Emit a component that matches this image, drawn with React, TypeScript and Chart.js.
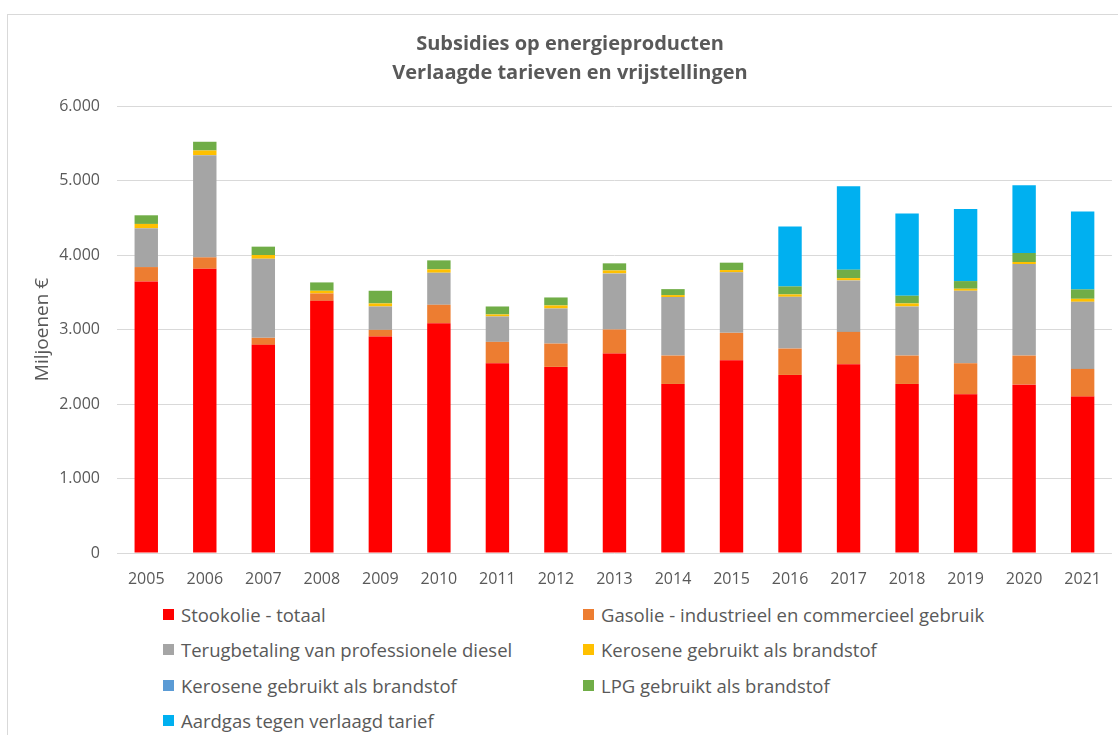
import React, { useEffect, useRef } from "react";
import { Chart, registerables } from "chart.js";

Chart.register(...registerables);

const years = ["2005", "2006", "2007", "2008", "2009", "2010", "2011", "2012", "2013", "2014", "2015", "2016", "2017", "2018", "2019", "2020", "2021"];

const stookolie = [3645, 3816, 2794, 3385, 2906, 3085, 2547, 2498, 2677, 2269, 2587, 2390, 2534, 2269, 2130, 2260, 2099];
const gasolie = [193, 152, 94, 99, 89, 247, 287, 313, 323, 381, 368, 354, 434, 381, 417, 390, 372];
const terugbetaling = [520, 1372, 1062, 0, 314, 430, 341, 471, 753, 785, 812, 695, 691, 659, 973, 1229, 901];
const keroseneGeel = [59, 63, 50, 36, 41, 45, 27, 41, 40, 27, 31, 32, 31, 41, 27, 27, 40];
const keroseneBlauw = [0, 0, 0, 0, 0, 0, 0, 0, 0, 0, 0, 0, 0, 0, 0, 0, 0];
const lpg = [116, 117, 112, 112, 170, 121, 107, 107, 95, 80, 99, 107, 113, 103, 103, 121, 126];
const aardgas = [0, 0, 0, 0, 0, 0, 0, 0, 0, 0, 0, 803, 1120, 1103, 969, 910, 1045];

const yTicks = [0, 1000, 2000, 3000, 4000, 5000, 6000];

const seriesLabels = [
  "Stookolie - totaal",
  "Gasolie - industrieel en commercieel gebruik",
  "Terugbetaling van professionele diesel",
  "Kerosene gebruikt als brandstof",
  "Kerosene gebruikt als brandstof",
  "LPG gebruikt als brandstof",
  "Aardgas tegen verlaagd tarief",
];
const seriesColors = ["#FF0000", "#ED7D31", "#A5A5A5", "#FFC000", "#5B9BD5", "#70AD47", "#00B0F0"];
const seriesData = [stookolie, gasolie, terugbetaling, keroseneGeel, keroseneBlauw, lpg, aardgas];

const FONT = "'Open Sans', 'DejaVu Sans', sans-serif";
const TEXT = "#595959";

function fmt(v: number): string {
  const s = String(Math.round(v));
  return s.replace(/\B(?=(\d{3})+(?!\d))/g, ".");
}

export default function App() {
  const ref = useRef<HTMLCanvasElement | null>(null);

  useEffect(() => {
    if (!ref.current) return;
    const chart = new Chart(ref.current, {
      type: "bar",
      data: {
        labels: years,
        datasets: seriesData.map((d, i) => ({
          label: seriesLabels[i],
          data: d,
          backgroundColor: seriesColors[i],
          borderWidth: 0,
          barPercentage: 0.4,
          categoryPercentage: 1.0,
        })),
      },
      options: {
        animation: false,
        responsive: false,
        maintainAspectRatio: false,
        layout: { padding: { top: 106, left: 7, right: 2, bottom: 0 } },
        plugins: {
          legend: { display: false },
          title: { display: false },
          tooltip: { enabled: false },
        },
        scales: {
          x: {
            stacked: true,
            grid: { display: false, drawTicks: false },
            border: { display: false },
            ticks: { color: TEXT, font: { family: FONT, size: 16 }, padding: 17 },
            afterFit: (s: any) => {
              s.height = 47;
            },
          },
          y: {
            stacked: true,
            min: 0,
            max: 6000,
            afterBuildTicks: (s: any) => {
              s.ticks = yTicks.map((v) => ({ value: v }));
            },
            grid: { color: "#D9D9D9", lineWidth: 1, drawTicks: false },
            border: { display: false },
            ticks: {
              color: TEXT,
              font: { family: FONT, size: 16 },
              padding: 17,
              callback: (v: any) => fmt(Number(v)),
            },
            title: {
              display: true,
              text: "Miljoenen €",
              color: TEXT,
              font: { family: FONT, size: 19 },
              padding: { top: 24, bottom: 0 },
            },
            afterFit: (s: any) => {
              s.width = 110;
            },
          },
        },
      },
    });
    return () => chart.destroy();
  }, []);

  const legendRows: number[][] = [[0, 1], [2, 3], [4, 5], [6]];
  const rowY = [614, 649, 685, 720];
  const colX = [163, 583];

  return (
    <div style={{ position: "fixed", left: 0, top: 0, width: 1118, height: 735, overflow: "hidden", background: "#fff", fontFamily: FONT }}>
      <div style={{ position: "absolute", left: 7, top: 14, width: 1300, height: 900, border: "1px solid #D9D9D9", boxSizing: "border-box" }} />
      <canvas ref={ref} width={1118} height={600} style={{ position: "absolute", left: 0, top: 0, width: 1118, height: 600 }} />
      <div style={{ position: "absolute", left: 7, width: 1126, top: 28, textAlign: "center", color: TEXT, fontWeight: 700, fontSize: 20, lineHeight: "29px" }}>
        <div>Subsidies op energieproducten</div>
        <div>Verlaagde tarieven en vrijstellingen</div>
      </div>
      {legendRows.map((row, r) =>
        row.map((idx, c) => (
          <div
            key={idx}
            style={{ position: "absolute", left: colX[c], top: rowY[r] - 13, height: 26, display: "flex", alignItems: "center", color: TEXT, fontSize: 18.5, whiteSpace: "nowrap" }}
          >
            <span style={{ display: "inline-block", width: 11, height: 11, background: seriesColors[idx], marginRight: 7 }} />
            <span>{seriesLabels[idx]}</span>
          </div>
        ))
      )}
    </div>
  );
}
